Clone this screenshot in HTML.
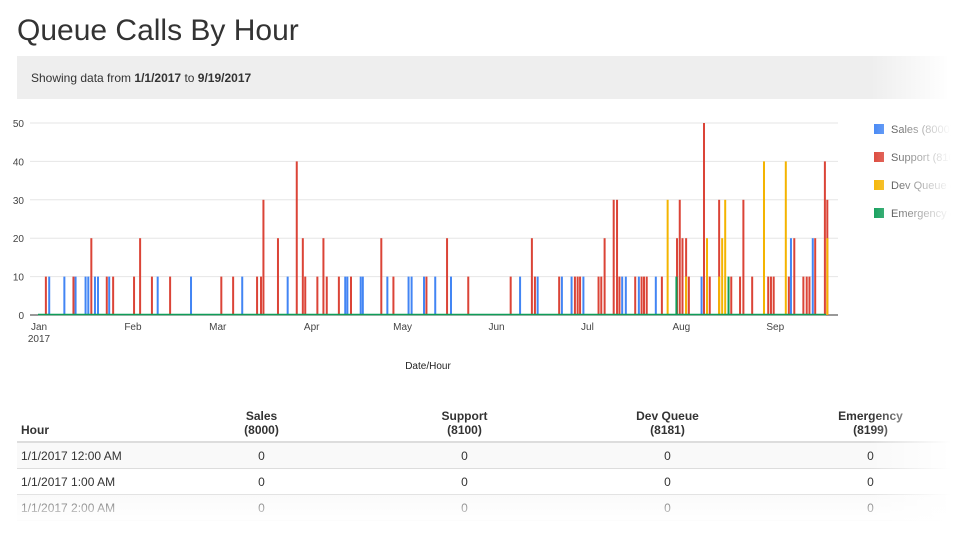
<!DOCTYPE html>
<html><head><meta charset="utf-8"><style>
body{margin:0;width:960px;height:533px;overflow:hidden;background:#fff;font-family:"Liberation Sans",Arial,sans-serif;position:relative;color:#333}
.abs{position:absolute}
h1{position:absolute;left:17px;top:14px;margin:0;font-size:30px;font-weight:normal;color:#333}
#banner{left:17px;top:56px;width:930px;height:43px;background:#eee}
#banner span{position:absolute;left:14px;top:15px;font-size:12px;color:#333}
table{position:absolute;left:17px;top:401px;width:955px;table-layout:fixed;border-collapse:collapse;font-size:12px}
th{font-weight:bold;text-align:center;padding:4px;vertical-align:bottom;border-bottom:2px solid #ddd;height:32px}
th:first-child{text-align:left}
td{text-align:center;height:25px;border-bottom:1px solid #ddd;padding:0 4px}
td:first-child{text-align:left}
tr:nth-child(even) td{background:#f9f9f9}
#fadeR{left:870px;top:50px;width:90px;height:483px;background:linear-gradient(to right,rgba(255,255,255,0),#fff 90%)}
#fadeB{left:0;top:488px;width:960px;height:45px;background:linear-gradient(to bottom,rgba(255,255,255,0),#fff 80%)}
</style></head><body>
<h1>Queue Calls By Hour</h1>
<div id="banner" class="abs"><span>Showing data from <b>1/1/2017</b> to <b>9/19/2017</b></span></div>
<svg id="chart" class="abs" style="left:0;top:100px" width="960" height="280"></svg>
<table>
<colgroup><col style="width:143px"><col style="width:203px"><col style="width:203px"><col style="width:203px"><col style="width:203px"></colgroup>
<tr><th>Hour</th><th>Sales<br>(8000)</th><th>Support<br>(8100)</th><th>Dev Queue<br>(8181)</th><th>Emergency<br>(8199)</th></tr>
<tr><td>1/1/2017 12:00 AM</td><td>0</td><td>0</td><td>0</td><td>0</td></tr>
<tr><td>1/1/2017 1:00 AM</td><td>0</td><td>0</td><td>0</td><td>0</td></tr>
<tr><td>1/1/2017 2:00 AM</td><td>0</td><td>0</td><td>0</td><td>0</td></tr>
</table>
<div id="fadeR" class="abs"></div>
<div id="fadeB" class="abs"></div>
<script>
const salesDays=[3.7,8.7,12.4,15.7,16.6,18.8,19.8,23.5,39.5,50.5,67.4,82.4,101.4,102.1,106.5,107.2,115.3,122.3,123.3,127.4,131.1,136.3,159.1,164.9,172.9,176.1,180,192.8,194,198.3,203.9,219,248.5,255.7];
const salesVals=[10,10,10,10,10,10,10,10,10,10,10,10,10,10,10,10,10,10,10,10,10,10,10,10,10,10,10,10,10,10,10,10,20,20];
const supportDays=[2.6,11.7,17.6,22.7,24.8,31.7,33.7,37.6,43.6,60.5,64.4,72.3,73.6,74.4,79.2,85.4,87.4,88.2,92.2,94.2,95.3,99.3,103.3,113.3,117.3,128.2,135,142,156,163,164,172,177.2,178.1,178.9,185,185.9,187,190,191.1,191.9,197.1,199.2,200,200.9,205.9,210.9,211.8,212.7,213.9,214.8,219.8,221.7,224.8,228.8,231.7,232.8,235.7,241,241.9,242.8,247.8,249.6,252.6,253.7,254.6,256.5,259.7,260.5];
const supportVals=[10,10,20,10,10,10,20,10,10,10,10,10,10,30,20,40,20,10,10,20,10,10,10,20,10,10,20,10,10,20,10,10,10,10,10,10,10,20,30,30,10,10,10,10,10,10,20,30,20,20,10,50,10,30,10,10,30,10,10,10,10,10,20,10,10,10,20,40,30];
const devDays=[207.8,213.9,220.8,224.8,225.8,226.8,239.6,246.8,260.5];
const devVals=[30,10,20,10,20,30,40,40,20];
const emergDays=[210.7,227.9];
const emergVals=[10,10];
const yTicks=[0,10,20,30,40,50];
const months=["Jan","Feb","Mar","Apr","May","Jun","Jul","Aug","Sep"];
const monthDays=[0,31,59,90,120,151,181,212,243];
const series=[["Sales (8000)","#4285f4",salesDays,salesVals],["Support (8100)","#db4437",supportDays,supportVals],["Dev Queue (8181)","#f4b400",devDays,devVals],["Emergency (8199)","#0f9d58",emergDays,emergVals]];
const NS="http://www.w3.org/2000/svg",svg=document.getElementById("chart");
const X=d=>38+d*3.03, Y=v=>215-v*3.84;
function mk(t,a,p){const e=document.createElementNS(NS,t);for(const k in a)e.setAttribute(k,a[k]);(p||svg).appendChild(e);return e;}
yTicks.forEach(v=>{const l=mk("line",{x1:30,x2:838,y1:Y(v),y2:Y(v),stroke:v?"#e6e6e6":"#333","stroke-width":1});


const t=mk("text",{x:24,y:Y(v)+4,"text-anchor":"end","font-size":10,fill:"#444"});t.textContent=v;

});
months.forEach((m,i)=>{const t=mk("text",{x:X(monthDays[i])+1,y:230,"text-anchor":"middle","font-size":10,fill:"#444"});t.textContent=m;

});
const yr=mk("text",{x:39,y:242,"text-anchor":"middle","font-size":10,fill:"#444"});yr.textContent="2017";


const xt=mk("text",{x:428,y:269,"text-anchor":"middle","font-size":10,fill:"#222"});xt.textContent="Date/Hour";


series.forEach(s=>{s[2].forEach((d,i)=>{const r=mk("rect",{x:X(d)-1,y:Y(s[3][i]),width:2,height:s[3][i]*3.84,fill:s[1]});

});});
mk("line",{x1:38,x2:826,y1:Y(0)-0.5,y2:Y(0)-0.5,stroke:"#0f9d58","stroke-width":1.5});
series.forEach((s,i)=>{const g=mk("g",{});


mk("rect",{x:874,y:24+i*28,width:10,height:10,fill:s[1]},g);
const t=mk("text",{x:891,y:33+i*28,"font-size":11,fill:"#222"},g);t.textContent=s[0];});
</script>
</body></html>
